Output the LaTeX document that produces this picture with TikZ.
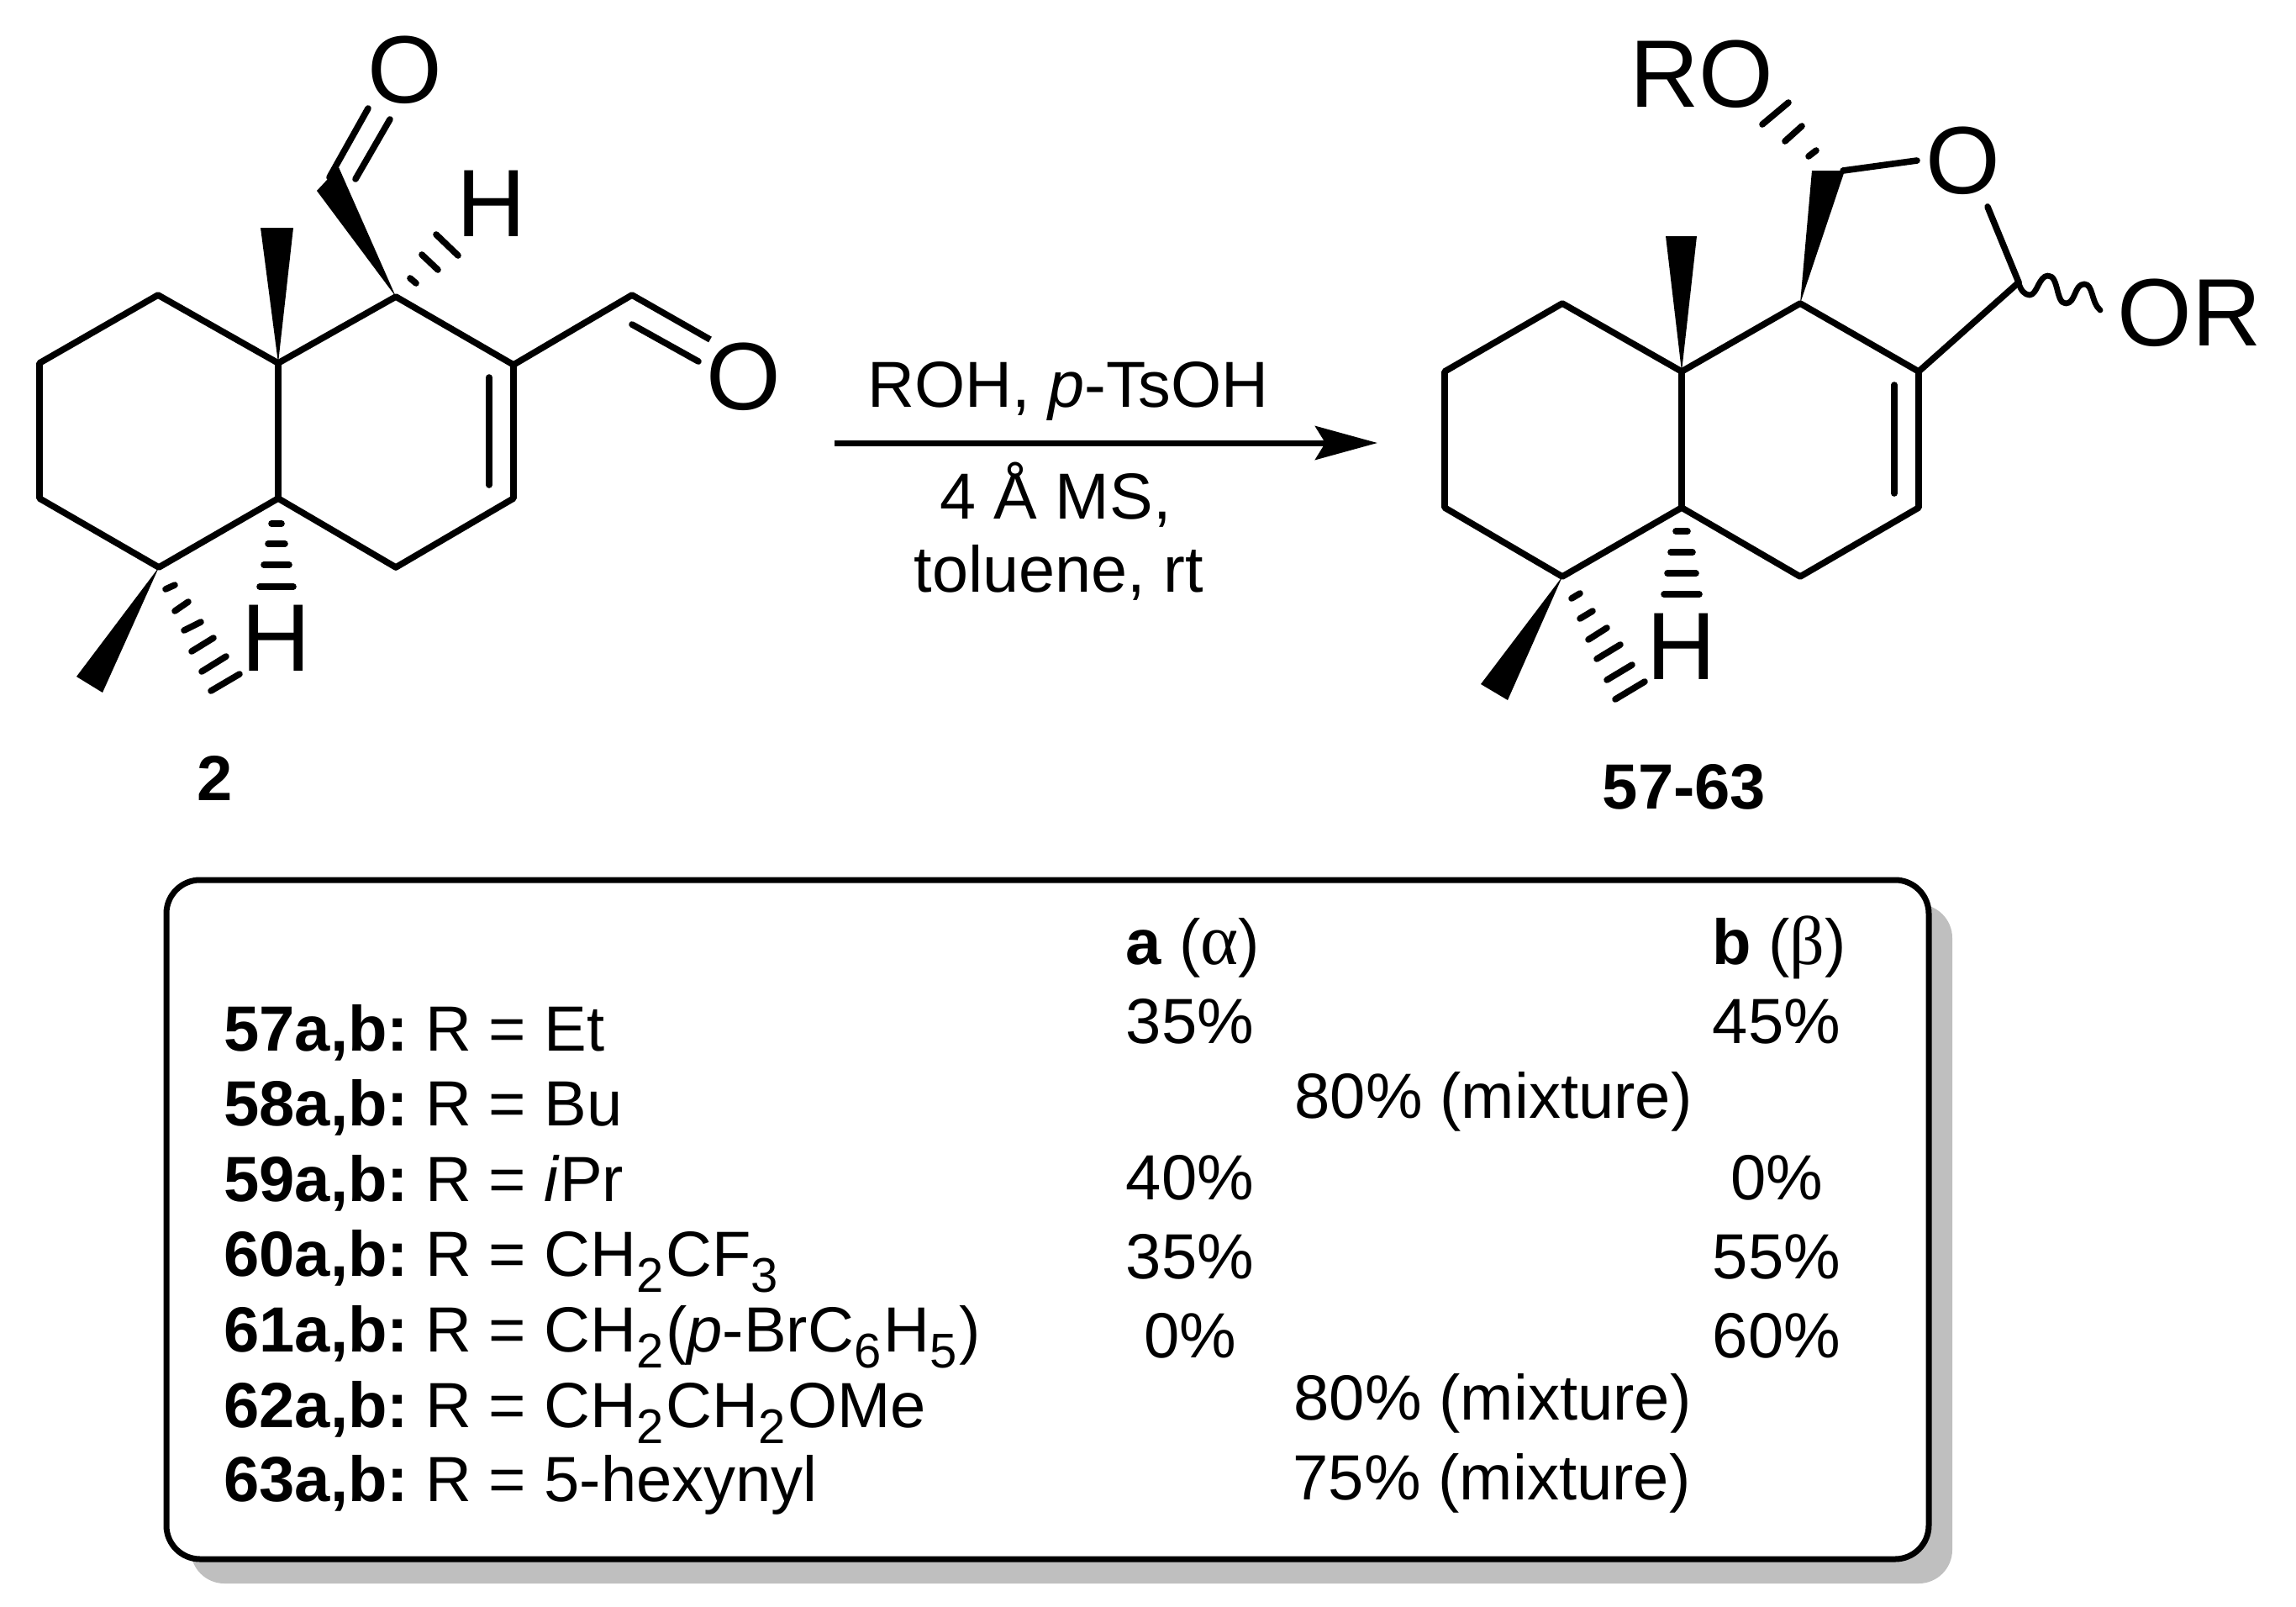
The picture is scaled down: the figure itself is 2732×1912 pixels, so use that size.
\documentclass[tikz,border=0pt]{standalone}
\usepackage{fontspec}
\setmainfont{Liberation Sans}
\newfontfamily\greekfont{Liberation Serif}
\usetikzlibrary{arrows.meta}
\definecolor{shadowgray}{rgb}{0.75, 0.75, 0.75}
\newcommand{\lowsub}[1]{\raisebox{-0.26em}{\fontsize{29}{29}\selectfont #1}\kern1.4pt}
\newcommand{\rowname}[1]{\textbf{#1:}\hspace{10pt}}
\begin{document}
\begin{tikzpicture}[x=0.5pt, y=-0.5pt, line join=round,
    bond/.style={line width=3.8pt},
    hash/.style={line width=3.8pt, line cap=round},
    atomlabel/.style={font=\fontsize{57}{57}\selectfont, inner sep=0pt},
    cmpd/.style={font=\fontsize{38}{38}\selectfont\bfseries, inner sep=0pt, anchor=base},
    tabtext/.style={font=\fontsize{38}{38}\selectfont, inner sep=0pt, anchor=base},
    reagent/.style={font=\fontsize{38.7}{39}\selectfont, inner sep=0pt, anchor=base},
    rowtext/.style={tabtext, anchor=base west}]
\useasboundingbox (0,0) rectangle (2732,1912);

% Aldehyde 2
\coordinate (a1) at (188,351);
\coordinate (a2) at (47,432);
\coordinate (a3) at (47,593);
\coordinate (a4) at (189,675);
\coordinate (a5) at (331,593);
\coordinate (a6) at (331,432);
\coordinate (a7) at (471,353);
\coordinate (a8) at (611,434);
\coordinate (a9) at (611,593);
\coordinate (a10) at (471,675);
\coordinate (acho) at (752,351);
\coordinate (acoa) at (845,404);
\coordinate (acob) at (752,386);
\coordinate (acoc) at (831,430);
\node[atomlabel] (ao1) at (482,83) {O};
\node[atomlabel] (ao2) at (885,448) {O};
\node[atomlabel] (ah1) at (585,242) {H};
\node[atomlabel] (ah2) at (329,759) {H};
\draw[bond] (a6) -- (a1) -- (a2) -- (a3) -- (a4) -- (a5) -- (a6) -- (a7) -- (a8) -- (a9) -- (a10) -- (a5);
\draw[bond] (a8) -- (acho) -- (acoa);
\draw[bond, line cap=round] (acob) -- (acoc);
\coordinate (adba) at (582,449);
\coordinate (adbb) at (582,577);
\draw[bond, line cap=round] (adba) -- (adbb);

% Top formyl
\coordinate (atopa) at (377,227);
\coordinate (atopb) at (403,199);
\coordinate (atco) at (392,211);
\coordinate (ato1) at (438,129);
\coordinate (ato2) at (423,213);
\coordinate (ato3) at (464,142);
\fill (a7) -- (atopa) -- (atopb) -- cycle;
\draw[bond, line cap=round] (atco) -- (ato1);
\draw[bond, line cap=round] (ato2) -- (ato3);

% Wedges
\coordinate (ame1) at (310,271);
\coordinate (ame2) at (349,271);
\fill (a6) -- (ame1) -- (ame2) -- cycle;
\coordinate (ame3) at (91,805);
\coordinate (ame4) at (122,824);
\fill (a4) -- (ame3) -- (ame4) -- cycle;

% Hashed bonds
\foreach \xa/\ya/\xb/\yb in {488/331/495/337, 502/303/521/321, 519/279/545/304,
    197/701/208/696, 208/727/224/716, 219/750/239/740, 228/775/254/759, 240/799/269/781, 251/822/285/802,
    323/623/335/623, 319/647/339/647, 314/672/344/672, 309/698/349/698}
    \draw[hash] (\xa,\ya) -- (\xb,\yb);
\node[cmpd] (acmpd) at (256,952) {2};

% Acetal 57-63
\coordinate (b1) at (1859,361);
\coordinate (b2) at (1719,442);
\coordinate (b3) at (1719,604);
\coordinate (b4) at (1859,686);
\coordinate (b5) at (2001,604);
\coordinate (b6) at (2001,442);
\coordinate (b7) at (2142,361);
\coordinate (b8) at (2283,442);
\coordinate (b9) at (2283,604);
\coordinate (b10) at (2142,686);
\coordinate (bk) at (2402,336);
\coordinate (bl) at (2193,203);
\node[atomlabel] (bo) at (2336,191) {O};
\node[atomlabel] (bro) at (2025,88) {RO};
\node[atomlabel] (bor) at (2605,372) {OR};
\node[atomlabel] (bh) at (2001,769) {H};
\draw[bond] (b6) -- (b1) -- (b2) -- (b3) -- (b4) -- (b5) -- (b6) -- (b7) -- (b8) -- (b9) -- (b10) -- (b5);
\draw[bond] (b8) -- (bk);
\coordinate (bla) at (2281,191);
\coordinate (blb) at (2365,246);
\draw[bond, line cap=round] (bl) -- (bla);
\draw[bond, line cap=round] (blb) -- (bk);
\coordinate (bdba) at (2254,458);
\coordinate (bdbb) at (2254,587);
\draw[bond, line cap=round] (bdba) -- (bdbb);

% Wavy bond
\draw[line width=3.4pt, line cap=round] (bk) .. controls (2404,346) and (2410,351) .. (2415,351)
    .. controls (2424,351) and (2426,328) .. (2437,328)
    .. controls (2450,328) and (2446,361) .. (2458,361)
    .. controls (2470,361) and (2468,338) .. (2480,338)
    .. controls (2491,338) and (2488,360) .. (2499,369);

% Wedges
\coordinate (btop1) at (2156,203);
\coordinate (btop2) at (2195,203);
\fill (b7) -- (btop1) -- (btop2) -- cycle;
\coordinate (bme1) at (1982,281);
\coordinate (bme2) at (2019,281);
\fill (b6) -- (bme1) -- (bme2) -- cycle;
\coordinate (bme3) at (1762,814);
\coordinate (bme4) at (1794,833);
\fill (b4) -- (bme3) -- (bme4) -- cycle;

% Hashed bonds
\foreach \xa/\ya/\xb/\yb in {2152/186/2161/179, 2124/168/2144/150, 2097/148/2128/122,
    1870/712/1880/706, 1880/736/1895/727, 1890/761/1912/747, 1900/784/1928/767, 1912/809/1942/791, 1922/832/1957/811,
    1994/632/2008/632, 1988/657/2014/657, 1984/682/2018/682, 1980/707/2022/707}
    \draw[hash] (\xa,\ya) -- (\xb,\yb);
\node[cmpd] (bcmpd) at (2004,962) {57-63};

% Reaction arrow
\coordinate (arrstart) at (993,527);
\coordinate (arrend) at (1639,527);
\draw[line width=3.5pt, -{Stealth[length=37pt, width=20pt, inset=6pt]}] (arrstart) -- (arrend);
\node[reagent] (reagent1) at (1271,484) {ROH, \textit{p}-TsOH};
\node[reagent] (reagent2) at (1256,617) {4 Å MS,};
\node[reagent] (reagent3) at (1260,704) {toluene, rt};

% Table box
\fill[shadowgray, rounded corners=20pt] (227,1076) rectangle (2323,1884);
\draw[line width=3.5pt, fill=white, rounded corners=20pt] (198,1047) rectangle (2295,1855);

% Left column
\node[rowtext] (row57) at (266,1250) {\rowname{57a,b}R = Et};
\node[rowtext] (row58) at (266,1339) {\rowname{58a,b}R = Bu};
\node[rowtext] (row59) at (266,1429) {\rowname{59a,b}R = \textit{i}Pr};
\node[rowtext] (row60) at (266,1518) {\rowname{60a,b}R = CH\lowsub{2}CF\lowsub{3}};
\node[rowtext] (row61) at (266,1608) {\rowname{61a,b}R = CH\lowsub{2}(\textit{p}-BrC\lowsub{6}H\lowsub{5})};
\node[rowtext] (row62) at (266,1698) {\rowname{62a,b}R = CH\lowsub{2}CH\lowsub{2}OMe};
\node[rowtext] (row63) at (266,1786) {\rowname{63a,b}R = 5-hexynyl};

% Column a
\node[tabtext] (heada) at (1419,1147) {\textbf{a} ({\greekfont\fontsize{43}{43}\selectfont α})};
\node[tabtext] (a57) at (1416,1241) {35\%};
\node[tabtext] (a59) at (1416,1427) {40\%};
\node[tabtext] (a60) at (1416,1521) {35\%};
\node[tabtext] (a61) at (1416,1615) {0\%};

% Column b
\node[tabtext] (headb) at (2117,1147) {\textbf{b} ({\greekfont\fontsize{41}{41}\selectfont β})};
\node[tabtext] (b57) at (2114,1241) {45\%};
\node[tabtext] (b59) at (2114,1427) {0\%};
\node[tabtext] (b60) at (2114,1521) {55\%};
\node[tabtext] (b61) at (2114,1615) {60\%};

% Mixtures
\node[tabtext] (mix58) at (1777,1330) {80\% (mixture)};
\node[tabtext] (mix62) at (1776,1689) {80\% (mixture)};
\node[tabtext] (mix63) at (1775,1784) {75\% (mixture)};
\end{tikzpicture}
\end{document}
